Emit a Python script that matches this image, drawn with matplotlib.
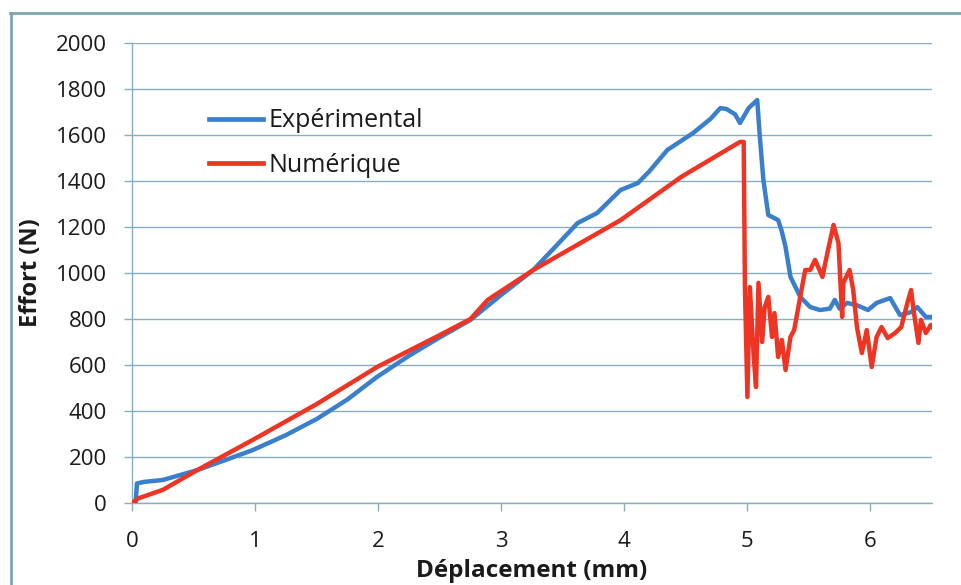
import matplotlib
matplotlib.use("Agg")
import matplotlib.pyplot as plt
from matplotlib.lines import Line2D

# Experimental curve
exp_x = [0.00, 0.03, 0.04, 0.10, 0.25, 0.53, 0.75, 0.98, 1.25, 1.50, 1.75, 1.99, 2.25, 2.50, 2.75,
         3.00, 3.26, 3.45, 3.62, 3.78, 3.97, 4.11, 4.20, 4.35, 4.56, 4.70, 4.78, 4.83, 4.90, 4.94,
         5.01, 5.08, 5.10, 5.13, 5.17, 5.25, 5.28, 5.31, 5.35, 5.43, 5.51, 5.59, 5.67, 5.71, 5.75,
         5.81, 5.89, 5.98, 6.05, 6.16, 6.24, 6.33, 6.38, 6.45, 6.53]
exp_y = [0, 0, 85, 92, 100, 143, 185, 230, 295, 365, 450, 548, 640, 720, 796,
         905, 1013, 1120, 1217, 1261, 1361, 1391, 1440, 1535, 1609, 1670, 1717, 1713, 1690, 1652,
         1717, 1752, 1600, 1404, 1252, 1230, 1180, 1113, 983, 896, 852, 839, 845, 883, 845,
         870, 860, 839, 870, 891, 817, 830, 852, 809, 809]

# Numerical curve
num_x = [0.00, 0.05, 0.25, 0.53, 0.98, 1.50, 1.99, 2.50, 2.75, 2.89, 3.26, 3.97, 4.46, 4.94, 4.97,
         4.98, 5.00, 5.02, 5.05, 5.07, 5.09, 5.12, 5.14, 5.17, 5.20, 5.22, 5.25, 5.28, 5.31,
         5.35, 5.38, 5.41, 5.45, 5.47, 5.51, 5.55, 5.61, 5.65, 5.70, 5.74, 5.77, 5.78, 5.83, 5.86,
         5.89, 5.93, 5.97, 6.01, 6.05, 6.09, 6.14, 6.20, 6.25, 6.30, 6.33, 6.35, 6.39, 6.41, 6.45,
         6.49, 6.52]
num_y = [0, 20, 57, 143, 274, 430, 591, 730, 800, 883, 1013, 1230, 1417, 1570, 1570,
         939, 461, 939, 650, 504, 957, 700, 850, 896, 722, 826, 635, 709, 578,
         722, 752, 839, 957, 1013, 1013, 1057, 983, 1087, 1209, 1130, 809, 957, 1013, 926,
         765, 652, 752, 591, 722, 765, 717, 739, 765, 870, 926, 839, 696, 796, 739,
         774, 752]

series_labels = ["Expérimental", "Numérique"]
x_ticks = [0, 1, 2, 3, 4, 5, 6]
y_ticks = [0, 200, 400, 600, 800, 1000, 1200, 1400, 1600, 1800, 2000]

plt.rcParams['font.family'] = ['Open Sans', 'DejaVu Sans']

BLUE = "#3a7fcc"
RED = "#ee3524"
GRID = "#86aec0"
TXT = "#1a1a1a"

fig = plt.figure(figsize=(9.62, 5.85), dpi=100)
ax = fig.add_axes([132/962, 1 - 503/585, (932 - 132)/962, (503 - 43)/585])

ax.plot(exp_x, exp_y, color=BLUE, lw=3.2, solid_joinstyle='round', zorder=3)
ax.plot(num_x, num_y, color=RED, lw=3.2, solid_joinstyle='round', zorder=4)

ax.set_xlim(0, 6.5)
ax.set_ylim(0, 2000)
ax.set_xticks(x_ticks)
ax.set_yticks(y_ticks)
ax.set_xticklabels([str(t) for t in x_ticks])
ax.set_yticklabels([str(t) for t in y_ticks])
ax.yaxis.grid(True, color=GRID, lw=1.0)
ax.set_axisbelow(True)
for s in ["top", "right"]:
    ax.spines[s].set_visible(False)
for s in ["left", "bottom"]:
    ax.spines[s].set_color(GRID)
    ax.spines[s].set_linewidth(1.0)
ax.tick_params(axis='both', colors=GRID, length=6, width=1.0, labelsize=16, labelcolor=TXT)
ax.tick_params(axis='x', pad=14)
ax.tick_params(axis='y', pad=12)

ax.set_xlabel("Déplacement (mm)", fontsize=17.5, fontweight='bold', labelpad=5, color=TXT)
ax.set_ylabel("Effort (N)", fontsize=17, fontweight='bold', labelpad=9, color=TXT)

handles = [Line2D([], [], color=BLUE, lw=3.4), Line2D([], [], color=RED, lw=3.4)]
leg = ax.legend(handles, series_labels, loc='center left', bbox_to_anchor=(0.0675, 0.782),
                frameon=False, fontsize=18, handlelength=2.16, handletextpad=0.24,
                labelspacing=0.79)
for t in leg.get_texts():
    t.set_color(TXT)

# outer chart border (Excel-style frame)
fig.add_artist(Line2D([10/962, 1.0], [1 - 13/585, 1 - 13/585], color="#7fa3b3", lw=2.0,
                      transform=fig.transFigure))
fig.add_artist(Line2D([11/962, 11/962], [0, 1 - 13/585], color="#7fa3b3", lw=2.0,
                      transform=fig.transFigure))

fig.savefig("out.png", dpi=100)
